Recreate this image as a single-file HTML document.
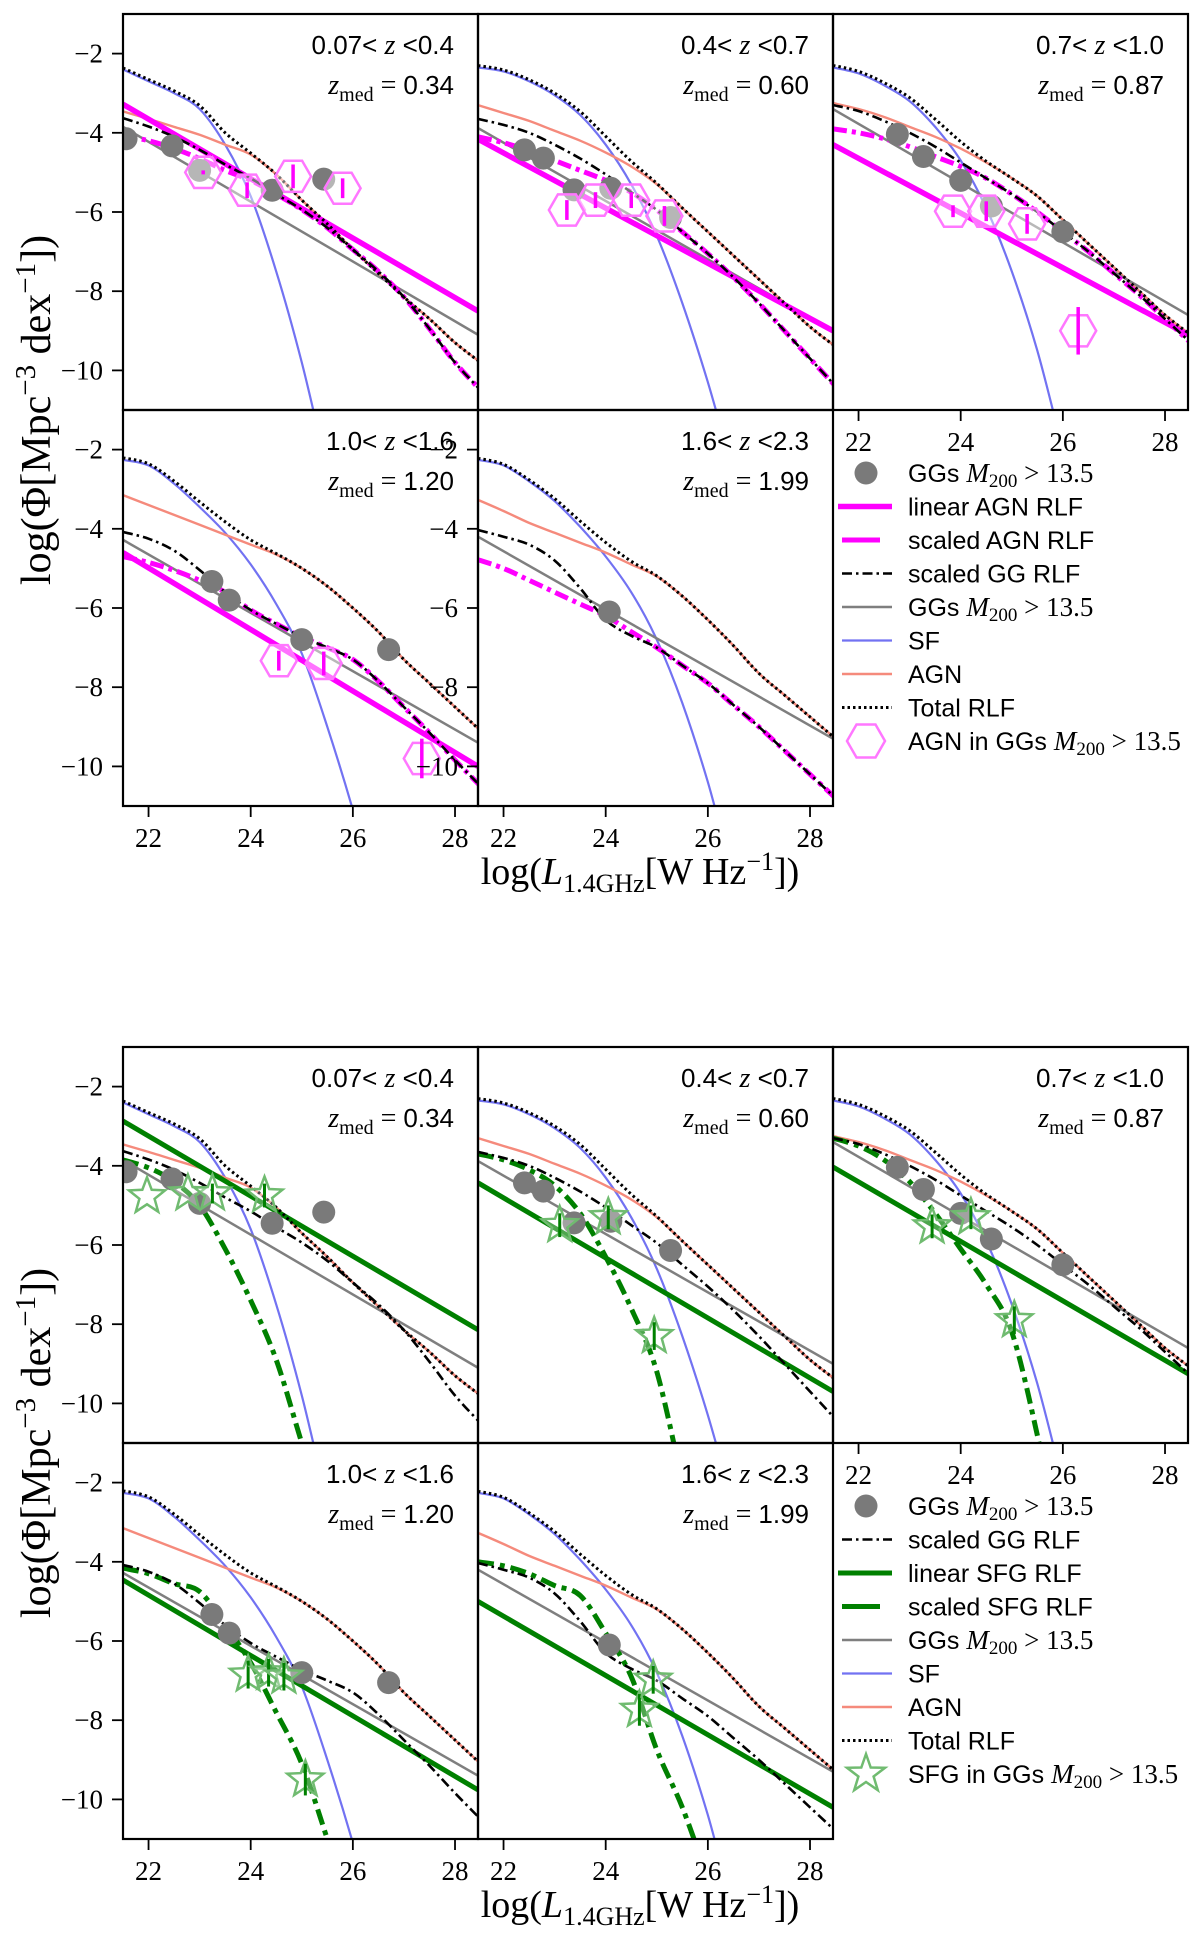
<!DOCTYPE html>
<html><head><meta charset="utf-8">
<style>
html,body{margin:0;padding:0;background:#fff;}
svg{display:block;}
text{font-family:"Liberation Sans",sans-serif;}
.serif{font-family:"Liberation Serif",serif;}
</style></head>
<body>
<svg id="fig" xmlns="http://www.w3.org/2000/svg" width="1200" height="1937" viewBox="0 0 1200 1937">
<rect x="0" y="0" width="1200" height="1937" fill="#fff"/>
</svg>
<script>
// ---------------- DATA ----------------
const xGrid = [21.5,22,22.5,23,23.5,24,24.5,25,25.5,26,26.5,27,27.5,28,28.5];
const zRanges = ["0.07","0.4","0.4","0.7","0.7","1.0","1.0","1.6","1.6","2.3"];
const zMedians = ["0.34","0.60","0.87","1.20","1.99"];
const sfCurves = [
  [-2.4,-2.7,-3.0,-3.4,-4.3,-5.6,-7.5,-9.8,-12.5,-15],
  [-2.35,-2.45,-2.7,-3.05,-3.55,-4.3,-5.3,-6.6,-8.3,-10.3,-12.6,-15],
  [-2.35,-2.5,-2.8,-3.2,-3.85,-4.7,-5.9,-7.5,-9.5,-12,-14.5],
  [-2.26,-2.4,-2.86,-3.45,-4.1,-4.9,-5.9,-7.15,-9.0,-11.1,-13.5],
  [-2.26,-2.4,-2.8,-3.3,-3.95,-4.7,-5.6,-6.8,-8.4,-10.4,-12.8,-15]
];
const agnCurves = [
  [-3.46,-3.65,-3.85,-4.05,-4.3,-4.55,-5.05,-5.7,-6.3,-6.95,-7.55,-8.15,-8.7,-9.3,-9.8],
  [-3.3,-3.5,-3.7,-3.95,-4.2,-4.5,-4.85,-5.3,-5.9,-6.5,-7.1,-7.7,-8.3,-8.9,-9.4],
  [-3.25,-3.4,-3.6,-3.85,-4.1,-4.4,-4.75,-5.15,-5.6,-6.2,-6.8,-7.4,-8.0,-8.6,-9.1],
  [-3.15,-3.4,-3.65,-3.9,-4.15,-4.4,-4.65,-5.0,-5.45,-6.0,-6.6,-7.3,-7.9,-8.5,-9.1],
  [-3.27,-3.55,-3.85,-4.1,-4.35,-4.6,-4.9,-5.2,-5.7,-6.3,-6.95,-7.65,-8.2,-8.75,-9.3]
];
const ggScaledCurves = [
  [-3.63,-3.84,-4.1,-4.43,-4.8,-5.15,-5.55,-5.94,-6.4,-6.95,-7.5,-8.15,-8.95,-9.8,-10.5],
  [-3.65,-3.8,-4.0,-4.3,-4.65,-5.05,-5.5,-5.95,-6.5,-7.05,-7.65,-8.3,-9.0,-9.7,-10.4],
  [-3.3,-3.45,-3.7,-4.0,-4.35,-4.75,-5.15,-5.55,-6.0,-6.5,-7.0,-7.55,-8.1,-8.7,-9.3],
  [-4.08,-4.25,-4.55,-5.04,-5.6,-6.05,-6.4,-6.73,-7.0,-7.3,-7.85,-8.5,-9.15,-9.84,-10.5],
  [-4.03,-4.2,-4.4,-4.8,-5.5,-6.3,-6.7,-7.0,-7.45,-7.9,-8.45,-9.0,-9.6,-10.2,-10.8]
];
const agnScaledCurves = [
  [-4.08,-4.2,-4.4,-4.65,-4.95,-5.2,-5.55,-5.94,-6.4,-6.95,-7.5,-8.15,-8.95,-9.8,-10.5],
  [-4.1,-4.25,-4.45,-4.7,-4.95,-5.2,-5.5,-5.95,-6.5,-7.05,-7.65,-8.3,-9.0,-9.7,-10.4],
  [-3.9,-4.0,-4.15,-4.35,-4.6,-4.85,-5.15,-5.55,-6.0,-6.5,-7.0,-7.55,-8.1,-8.7,-9.3],
  [-4.7,-4.85,-5.05,-5.3,-5.6,-6.05,-6.4,-6.73,-7.0,-7.3,-7.85,-8.5,-9.15,-9.84,-10.5],
  [-4.78,-5.0,-5.3,-5.6,-5.9,-6.2,-6.6,-7.0,-7.45,-7.9,-8.45,-9.0,-9.6,-10.2,-10.8]
];
const sfgScaledCurves = [
  [-3.85,-4.05,-4.4,-5.0,-6.1,-7.4,-8.9,-11,-13],
  [-3.7,-3.85,-4.1,-4.5,-5.2,-6.3,-7.6,-9.2,-12],
  [-3.3,-3.5,-3.85,-4.4,-5.2,-6.1,-7.0,-8.2,-10.8,-14],
  [-4.16,-4.3,-4.55,-4.75,-5.6,-6.55,-7.8,-9.1,-11,-13],
  [-4.0,-4.1,-4.3,-4.6,-4.85,-5.8,-6.9,-8.75,-10.2,-12]
];
const ggLineStart = [-3.85,-3.88,-3.4,-4.28,-4.2];
const ggLineEnd = [-9.1,-9.0,-8.6,-9.4,-9.3];
const agnLinearStart = [-3.28,-4.16,-4.3,-4.6,null];
const agnLinearEnd = [-8.5,-9.0,-9.1,-10.0,null];
const sfgLinearStart = [-2.87,-4.43,-4.03,-4.46,-5.0];
const sfgLinearEnd = [-8.14,-9.7,-9.25,-9.76,-10.2];
const ggPointX = [[21.56,22.46,23.0,24.42,25.43],[22.41,22.78,23.38,24.1,25.27],[22.76,23.27,24.0,24.6,26.0],[23.24,23.58,25.0,26.7],[24.07]];
const ggPointY = [[-4.15,-4.33,-4.95,-5.45,-5.17],[-4.43,-4.64,-5.44,-5.4,-6.14],[-4.04,-4.6,-5.2,-5.85,-6.5],[-5.33,-5.8,-6.8,-7.05],[-6.1]];
const agnHexX = [[23.07,23.93,24.83,25.8],[23.24,23.8,24.5,25.15],[23.85,24.5,25.3,26.3],[24.55,25.43,27.35],[]];
const agnHexY = [[-5.0,-5.45,-5.1,-5.4],[-5.95,-5.7,-5.7,-6.1],[-5.98,-5.98,-6.3,-9.0],[-7.33,-7.4,-9.8],[]];
const agnHexErr = [[0.05,0.2,0.3,0.25],[0.25,0.2,0.2,0.25],[0.15,0.25,0.25,0.6],[0.25,0.3,0.5],[]];
const sfgStarX = [[21.97,22.77,23.25,24.27],[23.1,24.05,24.95],[23.44,24.2,25.05],[23.95,24.35,24.65,25.07],[24.66,24.93]];
const sfgStarY = [[-4.77,-4.7,-4.7,-4.75],[-5.5,-5.3,-8.3],[-5.53,-5.3,-7.9],[-6.85,-6.8,-6.9,-9.5],[-7.74,-6.98]];
const sfgStarErr = [[0,0,0.25,0.3],[0.3,0.3,0.35],[0.3,0.3,0.35],[0.35,0.35,0.35,0.4],[0.4,0.35]];
const xTicks = [22,24,26,28];
const yTicks = [-2,-4,-6,-8,-10];

// ---------------- LAYOUT ----------------
const NS = "http://www.w3.org/2000/svg";
const svg = document.getElementById('fig');
const PW = 355, PH = 396;
const X0 = 123;
const figTops = [14, 1047];
const XMIN = 21.5, XMAX = 28.45, YMIN = -11, YMAX = -1;
const panelRC = [[0,0],[0,1],[0,2],[1,0],[1,1]];
function px0(col){ return X0 + col*PW; }
function py0(fig,row){ return figTops[fig] + row*PH; }
function xs(v, col){ return px0(col) + (v - XMIN)/(XMAX - XMIN)*PW; }
function ys(v, fig, row){ return py0(fig,row) + (YMAX - v)/(YMAX - YMIN)*PH; }

function el(tag, attrs, parent){
  const e = document.createElementNS(NS, tag);
  for (const k in attrs) e.setAttribute(k, attrs[k]);
  (parent || svg).appendChild(e);
  return e;
}
function smooth(pts){
  let d = 'M' + pts[0][0].toFixed(1) + ',' + pts[0][1].toFixed(1);
  for (let i = 0; i < pts.length - 1; i++){
    const p0 = pts[i-1] || pts[i], p1 = pts[i], p2 = pts[i+1], p3 = pts[i+2] || pts[i+1];
    const c1x = p1[0] + (p2[0]-p0[0])/6, c1y = p1[1] + (p2[1]-p0[1])/6;
    const c2x = p2[0] - (p3[0]-p1[0])/6, c2y = p2[1] - (p3[1]-p1[1])/6;
    d += ' C' + c1x.toFixed(1)+','+c1y.toFixed(1)+' '+c2x.toFixed(1)+','+c2y.toFixed(1)+' '+p2[0].toFixed(1)+','+p2[1].toFixed(1);
  }
  return d;
}
function curvePts(arr, fig, row, col){
  return arr.map((v,i) => [xs(xGrid[i], col), ys(v, fig, row)]);
}
function totalOf(sf, agn){
  return agn.map((a,i) => {
    const s = i < sf.length ? sf[i] : -30;
    return Math.log10(Math.pow(10, s) + Math.pow(10, a));
  });
}
function hexPath(cx, cy, r){
  let d = '';
  for (let k = 0; k < 6; k++){
    const a = Math.PI/3*k;
    d += (k ? 'L' : 'M') + (cx + r*Math.cos(a)).toFixed(1) + ',' + (cy + r*Math.sin(a)).toFixed(1);
  }
  return d + 'Z';
}
function starPath(cx, cy, R, r){
  let d = '';
  for (let k = 0; k < 10; k++){
    const a = -Math.PI/2 + Math.PI/5*k;
    const rr = k%2 ? r : R;
    d += (k ? 'L' : 'M') + (cx + rr*Math.cos(a)).toFixed(1) + ',' + (cy + rr*Math.sin(a)).toFixed(1);
  }
  return d + 'Z';
}

const defs = el('defs', {});
const COL = {sf:'#7272f2', agn:'#f58a7c', grey:'#7f7f7f', mag:'#ff00ff', green:'#008000', hex:'#ff77ff', star:'#70bb70', dot:'#7a7a7a'};

function addZText(g, fig, row, col, p){
  const xr = px0(col) + PW - 24, yt = py0(fig,row);
  const t1 = el('text', {x:xr, y:yt+40, 'text-anchor':'end', 'font-size':'26'}, g);
  
  
  t1.innerHTML = zRanges[2*p] + '&lt; <tspan class="serif" font-style="italic" font-size="28">z</tspan> &lt;' + zRanges[2*p+1];
  const t2 = el('text', {x:xr, y:yt+80, 'text-anchor':'end', 'font-size':'26'}, g);
  
  
  t2.innerHTML = '<tspan class="serif" font-style="italic" font-size="28">z</tspan><tspan class="serif" font-size="20" dy="7">med</tspan><tspan class="serif" font-size="28" dy="-7">  =  </tspan>' + zMedians[p];
}

function drawPanel(fig, p){
  const [row, col] = panelRC[p];
  const x0 = px0(col), y0 = py0(fig,row);
  const g = el('g', {});
  
  
  const cid = 'clip' + fig + '_' + p;
  const cp = el('clipPath', {id:cid}, defs);
  el('rect', {x:x0, y:y0, width:PW, height:PH}, cp);
  const pg = el('g', {'clip-path':'url(#'+cid+')'}, g);

  const sf = el('path', {d:smooth(curvePts(sfCurves[p], fig,row,col)), fill:'none', stroke:COL.sf, 'stroke-width':2.2}, pg);
  
  
  const ag = el('path', {d:smooth(curvePts(agnCurves[p], fig,row,col)), fill:'none', stroke:COL.agn, 'stroke-width':2.4}, pg);
  
  
  const gl = el('line', {x1:xs(XMIN,col), y1:ys(ggLineStart[p],fig,row), x2:xs(XMAX,col), y2:ys(ggLineEnd[p],fig,row), stroke:COL.grey, 'stroke-width':2.5}, pg);
  
  

  if (fig === 0){
    if (agnLinearStart[p] !== null){
      const ml = el('line', {x1:xs(XMIN,col), y1:ys(agnLinearStart[p],fig,row), x2:xs(XMAX,col), y2:ys(agnLinearEnd[p],fig,row), stroke:COL.mag, 'stroke-width':5.5}, pg);
      
      
    }
    const ms = el('path', {d:smooth(curvePts(agnScaledCurves[p], fig,row,col)), fill:'none', stroke:COL.mag, 'stroke-width':5, 'stroke-dasharray':'14,5,4,5'}, pg);
    
    
  } else {
    const gl2 = el('line', {x1:xs(XMIN,col), y1:ys(sfgLinearStart[p],fig,row), x2:xs(XMAX,col), y2:ys(sfgLinearEnd[p],fig,row), stroke:COL.green, 'stroke-width':5}, pg);
    
    
    const gs = el('path', {d:smooth(curvePts(sfgScaledCurves[p], fig,row,col)), fill:'none', stroke:COL.green, 'stroke-width':5, 'stroke-dasharray':'16,6,5,6'}, pg);
    
    
  }
  const gd = el('path', {d:smooth(curvePts(ggScaledCurves[p], fig,row,col)), fill:'none', stroke:'#000', 'stroke-width':2.6, 'stroke-dasharray':'10,4,2.5,4'}, pg);
  
  
  const tot = el('path', {d:smooth(curvePts(totalOf(sfCurves[p], agnCurves[p]), fig,row,col)), fill:'none', stroke:'#000', 'stroke-width':3, 'stroke-dasharray':'2.5,3'}, pg);
  
  

  ggPointX[p].forEach((xv,i) => {
    const c = el('circle', {cx:xs(xv,col), cy:ys(ggPointY[p][i],fig,row), r:11.5, fill:COL.dot}, pg);
    
    
  });
  if (fig === 0){
    agnHexX[p].forEach((xv,i) => {
      const cx = xs(xv,col), cy = ys(agnHexY[p][i],fig,row);
      const h = el('path', {d:hexPath(cx,cy,18), fill:'rgba(255,255,255,0.45)', stroke:COL.hex, 'stroke-width':2.5}, pg);
      
      
      const e = agnHexErr[p][i];
      const eb = el('line', {x1:cx, x2:cx, y1:ys(agnHexY[p][i]+e,fig,row), y2:ys(agnHexY[p][i]-e,fig,row), stroke:COL.mag, 'stroke-width':3.5}, pg);
      
      
    });
  } else {
    sfgStarX[p].forEach((xv,i) => {
      const cx = xs(xv,col), cy = ys(sfgStarY[p][i],fig,row);
      const s = el('path', {d:starPath(cx,cy,19,8), fill:'rgba(255,255,255,0.3)', stroke:COL.star, 'stroke-width':2.5}, pg);
      
      
      const e = sfgStarErr[p][i];
      if (e > 0){
        const eb = el('line', {x1:cx, x2:cx, y1:ys(sfgStarY[p][i]+e,fig,row), y2:ys(sfgStarY[p][i]-e,fig,row), stroke:COL.green, 'stroke-width':3}, pg);
        
        
      }
    });
  }
  const fr = el('rect', {x:x0, y:y0, width:PW, height:PH, fill:'none', stroke:'#000', 'stroke-width':2.2}, g);
  
  
  addZText(g, fig, row, col, p);

  const showY = (col === 0) || (fig === 0 && p === 4);
  if (showY){
    yTicks.forEach(t => {
      const yy = ys(t,fig,row);
      el('line', {x1:x0-11, x2:x0, y1:yy, y2:yy, stroke:'#000', 'stroke-width':1.8}, g);
      const lt = el('text', {x:x0-20, y:yy+9, 'text-anchor':'end', 'font-size':'27', class:'serif'}, g);
      
      
      lt.textContent = '\u2212' + Math.abs(t);
    });
  }
  if (row === 1 || p === 2){
    xTicks.forEach(t => {
      const xx = xs(t,col), yb = y0 + PH;
      el('line', {x1:xx, x2:xx, y1:yb, y2:yb+11, stroke:'#000', 'stroke-width':1.8}, g);
      const lt = el('text', {x:xx, y:yb+41, 'text-anchor':'middle', 'font-size':'27', class:'serif'}, g);
      
      
      lt.textContent = t;
    });
  }
}

function axisTitles(fig){
  const base = figTops[fig];
  const yt = el('text', {x:0, y:0, 'text-anchor':'middle', 'font-size':'42', class:'serif', transform:'translate(50,'+(base+PH)+') rotate(-90)'});
  
  
  yt.innerHTML = 'log(\u03A6[Mpc<tspan dy="-15" font-size="29">\u22123</tspan><tspan dy="15"> dex</tspan><tspan dy="-15" font-size="29">\u22121</tspan><tspan dy="15">])</tspan>';
  const xt = el('text', {x:640, y:base+2*PH+78, 'text-anchor':'middle', 'font-size':'38', class:'serif'});
  
  
  xt.innerHTML = 'log(<tspan font-style="italic">L</tspan><tspan font-size="26" dy="8">1.4GHz</tspan><tspan dy="-8">[W Hz</tspan><tspan dy="-14" font-size="26">\u22121</tspan><tspan dy="14">])</tspan>';
}

function legend(fig){
  const top = figTops[fig] + PH + 63;
  const step = 33.5;
  const hx1 = 840, hx2 = 892, tx = 908;
  const items = fig === 0 ?
    [['circle','gg'],['lin-mag','linear AGN RLF'],['dash-mag','scaled AGN RLF'],['dashdot','scaled GG RLF'],['grey','gg'],['sf','SF'],['agn','AGN'],['total','Total RLF'],['hex','agnin']] :
    [['circle','gg'],['dashdot','scaled GG RLF'],['lin-green','linear SFG RLF'],['dash-green','scaled SFG RLF'],['grey','gg'],['sf','SF'],['agn','AGN'],['total','Total RLF'],['star','sfgin']];
  const g = el('g', {});
  
  
  items.forEach((it,i) => {
    const cy = top + i*step;
    const k = it[0];
    if (k === 'circle') el('circle', {cx:866, cy:cy, r:11.5, fill:COL.dot}, g);
    else if (k === 'hex') el('path', {d:hexPath(866,cy,19), fill:'none', stroke:COL.hex, 'stroke-width':2.5}, g);
    else if (k === 'star') el('path', {d:starPath(866,cy,20,8), fill:'none', stroke:COL.star, 'stroke-width':2.5}, g);
    else {
      const st = {'lin-mag':[COL.mag,5.5,''],'dash-mag':[COL.mag,5,'38,100'],'dashdot':['#000',2.6,'10,4,2.5,4'],'grey':[COL.grey,2.5,''],'sf':[COL.sf,2.2,''],'agn':[COL.agn,2.4,''],'total':['#000',3,'2.5,3'],'lin-green':[COL.green,5,''],'dash-green':[COL.green,5,'38,100']}[k];
      const x1 = (k === 'lin-mag' || k === 'lin-green') ? hx1-2 : hx1+2;
      el('line', {x1:x1, x2:hx2, y1:cy, y2:cy, stroke:st[0], 'stroke-width':st[1], 'stroke-dasharray':st[2]||'none'}, g);
    }
    const t = el('text', {x:tx, y:cy+9, 'font-size':'25'}, g);
    
    
    const mth = '<tspan class="serif" font-style="italic" font-size="27">M</tspan><tspan class="serif" font-size="19" dy="5">200</tspan><tspan class="serif" font-size="27" dy="-5"> &gt; 13.5</tspan>';
    if (it[1] === 'gg') t.innerHTML = 'GGs ' + mth;
    else if (it[1] === 'agnin') t.innerHTML = 'AGN in GGs ' + mth;
    else if (it[1] === 'sfgin') t.innerHTML = 'SFG in GGs ' + mth;
    else t.textContent = it[1];
  });
}

for (let fig = 0; fig < 2; fig++){
  for (let p = 0; p < 5; p++) drawPanel(fig, p);
  axisTitles(fig);
  legend(fig);
}
</script>
</body></html>
